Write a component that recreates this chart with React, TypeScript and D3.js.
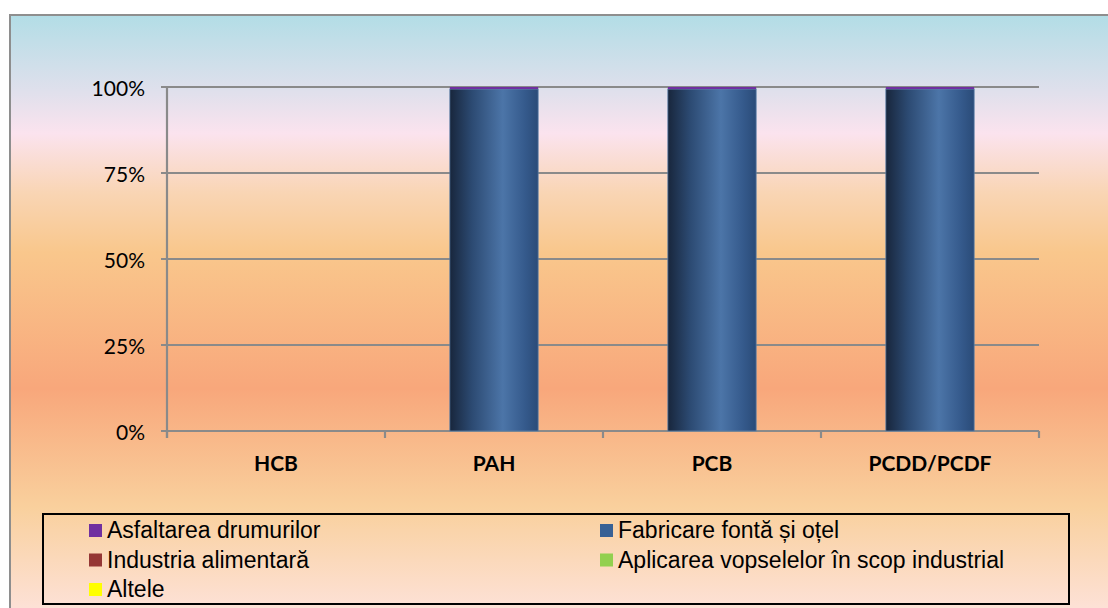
import React from "react";
import * as d3 from "d3";

const categories = ["HCB", "PAH", "PCB", "PCDD/PCDF"];
const seriesNames = [
  "Fabricare fontă și oțel",
  "Asfaltarea drumurilor",
  "Industria alimentară",
  "Aplicarea vopselelor în scop industrial",
  "Altele",
];
const fabricare = [0, 99.4, 99.4, 99.4];
const asfaltare = [0, 0.6, 0.6, 0.6];
const industria = [0, 0, 0, 0];
const aplicarea = [0, 0, 0, 0];
const altele = [0, 0, 0, 0];
const yTicks = [0, 25, 50, 75, 100];

const legendOrder = [
  { name: "Asfaltarea drumurilor", color: "#7030a0" },
  { name: "Fabricare fontă și oțel", color: "#386195" },
  { name: "Industria alimentară", color: "#953735" },
  { name: "Aplicarea vopselelor în scop industrial", color: "#92d050" },
  { name: "Altele", color: "#ffff00" },
];

const W = 1108;
const H = 608;
const plot = { left: 167, right: 1039, top: 87, bottom: 431 };

export default function App() {
  const x = d3
    .scaleBand<string>()
    .domain(categories)
    .range([plot.left, plot.right])
    .paddingInner(0.595)
    .paddingOuter(0.2975);
  const xCat = d3.scaleBand<string>().domain(categories).range([plot.left, plot.right]).padding(0);
  const y = d3.scaleLinear().domain([0, 100]).range([plot.bottom, plot.top]);

  const rows = categories.map((c, i) => ({
    cat: c,
    [seriesNames[0]]: fabricare[i],
    [seriesNames[1]]: asfaltare[i],
    [seriesNames[2]]: industria[i],
    [seriesNames[3]]: aplicarea[i],
    [seriesNames[4]]: altele[i],
  }));
  const stack = d3.stack<any>().keys(seriesNames)(rows);
  const colorOf: Record<string, string> = {
    "Fabricare fontă și oțel": "url(#barGrad)",
    "Asfaltarea drumurilor": "#7030a0",
    "Industria alimentară": "#953735",
    "Aplicarea vopselelor în scop industrial": "#92d050",
    Altele: "#ffff00",
  };

  const catBoundaries = [...categories.map((c) => xCat(c)!), plot.right];

  const legendBox = { x: 43, y: 514, w: 1026, h: 90 };
  const legendCols = [89, 600];

  return (
    <div style={{ position: "absolute", left: 0, top: 0 }}>
      <svg width={W} height={H} style={{ display: "block" }}>
        <defs>
          <linearGradient id="bgGrad" x1="0" y1="15" x2="0" y2="608" gradientUnits="userSpaceOnUse">
            <stop offset="0" stopColor="#b2dde6" />
            <stop offset="0.13" stopColor="#e0e0ec" />
            <stop offset="0.2" stopColor="#fbe3ee" />
            <stop offset="0.3" stopColor="#f9d5b4" />
            <stop offset="0.4" stopColor="#f9c78c" />
            <stop offset="0.63" stopColor="#f8a77b" />
            <stop offset="0.83" stopColor="#f9d09d" />
            <stop offset="1" stopColor="#fde1d6" />
          </linearGradient>
          <linearGradient id="barGrad" x1="0" y1="0" x2="1" y2="0">
            <stop offset="0" stopColor="#18263c" />
            <stop offset="0.25" stopColor="#2c4a72" />
            <stop offset="0.6" stopColor="#4c75a8" />
            <stop offset="0.85" stopColor="#355a8c" />
            <stop offset="1" stopColor="#2a4b78" />
          </linearGradient>
        </defs>
        <rect x={0} y={0} width={W} height={H} fill="#ffffff" />
        <rect x={10} y={15} width={W + 20} height={H + 20} fill="url(#bgGrad)" stroke="#8e8e8e" strokeWidth={2} />

        {/* gridlines */}
        {yTicks.map((t) => (
          <line
            key={"g" + t}
            x1={plot.left - 6}
            x2={plot.right}
            y1={y(t)}
            y2={y(t)}
            stroke="#8a8a8a"
            strokeWidth={2.2}
          />
        ))}
        {/* y axis */}
        <line x1={plot.left} x2={plot.left} y1={plot.top} y2={plot.bottom + 7} stroke="#8a8a8a" strokeWidth={2.2} />
        {/* x ticks */}
        {catBoundaries.map((bx, i) => (
          <line key={"xt" + i} x1={bx} x2={bx} y1={plot.bottom} y2={plot.bottom + 7} stroke="#8a8a8a" strokeWidth={2.2} />
        ))}

        {/* bars */}
        {stack.map((s) =>
          s.map((d, i) => {
            const h = y(d[0]) - y(d[1]);
            if (h <= 0) return null;
            const isMain = s.key === seriesNames[0];
            return (
              <rect
                key={s.key + i}
                x={x(categories[i])!}
                y={y(d[1])}
                width={x.bandwidth()}
                height={h}
                fill={colorOf[s.key]}
                stroke={isMain ? "#5b7fa8" : "none"}
                strokeWidth={isMain ? 0.8 : 0}
              />
            );
          })
        )}

        {/* y labels */}
        {yTicks.map((t) => (
          <text
            key={"yl" + t}
            x={145}
            y={y(t) + 9}
            textAnchor="end"
            fontFamily="Lato, 'Open Sans', sans-serif"
            fontSize={21}
            fill="#000"
          >
            {t}%
          </text>
        ))}
        {/* x labels */}
        {categories.map((c) => (
          <text
            key={"xl" + c}
            x={xCat(c)! + xCat.bandwidth() / 2}
            y={471}
            textAnchor="middle"
            fontFamily="Lato, 'Open Sans', sans-serif"
            fontWeight="bold"
            fontSize={21}
            fill="#000"
          >
            {c}
          </text>
        ))}

        {/* legend */}
        <rect
          x={legendBox.x}
          y={legendBox.y}
          width={legendBox.w}
          height={legendBox.h}
          fill="none"
          stroke="#000"
          strokeWidth={2}
        />
        {legendOrder.map((item, i) => {
          const col = i % 2;
          const row = Math.floor(i / 2);
          const lx = legendCols[col];
          const baseline = 538 + row * 29.5;
          return (
            <g key={"lg" + i}>
              <rect x={lx} y={baseline - 14} width={13} height={13} fill={item.color} />
              <text
                x={lx + 18}
                y={baseline}
                fontFamily="'Liberation Sans', Arial, sans-serif"
                fontSize={23}
                fill="#000"
              >
                {item.name}
              </text>
            </g>
          );
        })}
      </svg>
    </div>
  );
}
